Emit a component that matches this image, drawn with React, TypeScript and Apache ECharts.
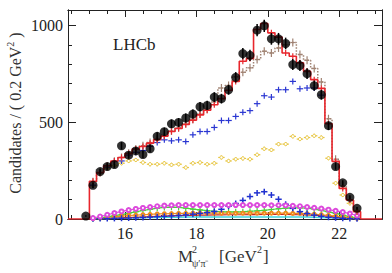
import React, { useEffect, useRef } from "react";
import * as echarts from "echarts";

// ---- data ----
const dataFirstCenter = 14.9;
const fitFirstEdge = 15.0;
const binWidth = 0.2;

const dataCounts = [15, 174, 245, 271, 281, 378, 330, 352, 333, 363, 427, 451, 492, 499, 522, 542, 580, 587, 630, 622, 668, 732, 855, 846, 976, 998, 931, 931, 907, 798, 793, 751, 689, 642, 482, 271, 187, 112, 55];

const fitTotal = [195, 240, 275, 300, 318, 338, 362, 375, 392, 410, 428, 452, 468, 488, 510, 538, 562, 590, 622, 665, 711, 815, 830, 979, 1010, 962, 940, 858, 841, 807, 763, 720, 675, 492, 298, 158, 98, 38];

const brownComp = [192, 238, 273, 298, 318, 340, 362, 378, 395, 412, 432, 455, 472, 492, 515, 542, 567, 605, 677, 690, 735, 758, 781, 824, 867, 858, 884, 900, 912, 850, 820, 778, 708, 518, 309, 170, 100, 40];

const blueComp = [175, 238, 268, 297, 300, 330, 345, 354, 375, 395, 409, 404, 409, 400, 435, 452, 452, 473, 509, 509, 530, 551, 560, 596, 637, 630, 668, 668, 711, 673, 677, 677, 640];

const yellowComp = [172, 236, 262, 276, 288, 300, 305, 292, 283, 283, 288, 280, 283, 266, 288, 292, 283, 288, 318, 300, 309, 313, 309, 332, 363, 357, 387, 387, 427, 413, 421, 430, 421, 314, 185, 124, 81, 43];

const magentaComp = [5, 13, 22, 31, 39, 46, 52, 57, 62, 66, 69, 71, 72, 72, 72, 72, 72, 72, 72, 72, 72, 72, 72, 72, 72, 71, 71, 70, 68, 66, 62, 58, 54, 48, 42, 36, 28, 18];

const greenComp = [2, 6, 11, 17, 23, 30, 37, 44, 50, 56, 60, 61, 60, 56, 51, 47, 43, 40, 38, 37, 37, 38, 40, 42, 45, 49, 53, 56, 58, 58, 56, 51, 45, 37, 29, 20, 12, 5];

const orangeComp = [2, 5, 9, 12, 15, 18, 20, 22, 24, 26, 27, 28, 29, 29, 30, 30, 30, 30, 30, 30, 30, 30, 30, 30, 30, 30, 30, 30, 29, 29, 27, 25, 22, 19, 15, 11, 7, 3];

const cyanComp = [1, 2, 3, 4, 5, 6, 7, 7, 8, 8, 9, 9, 9, 10, 10, 10, 10, 10, 10, 10, 10, 10, 10, 10, 10, 10, 10, 10, 10, 10, 10, 9, 8, 7, 6, 4, 3, 2];

const darkRedComp = [1, 2, 3, 5, 6, 8, 9, 11, 12, 14, 15, 16, 17, 18, 19, 20, 20, 21, 21, 22, 22, 22, 23, 23, 24, 24, 24, 24, 23, 22, 21, 19, 17, 14, 11, 8, 5, 3];

const bluePeakComp = [1, 2, 2, 3, 4, 5, 6, 8, 10, 12, 14, 16, 18, 21, 25, 29, 33, 39, 50, 66, 80, 96, 116, 135, 141, 124, 102, 76, 55, 38, 28, 20, 14, 9, 6, 4, 2, 1];

const xMajorTicks = [16, 18, 20, 22];
const xMinorTicks = [14.5, 15, 15.5, 16.5, 17, 17.5, 18.5, 19, 19.5, 20.5, 21, 21.5, 22.5, 23];
const yMajorTicks = [0, 500, 1000];
const yMinorTicks = [100, 200, 300, 400, 600, 700, 800, 900];

const X_MIN = 14.4;
const X_MAX = 23.2;
const Y_MAX = 1080;

const FONT = "Liberation Serif";

const r1 = (v: number) => Math.round(v * 10) / 10;
const atCenters = (vals: number[], firstCenter: number) =>
  vals.map((v, i) => [r1(firstCenter + i * binWidth), v]);

function crossRender(color: string, halfW: number, halfH: number, circle: boolean, lw = 1.2) {
  return (params: any, api: any) => {
    const x = api.value(0);
    const y = api.value(1);
    const c = api.coord([x, y]);
    const l = api.coord([x - halfW, y]);
    const r = api.coord([x + halfW, y]);
    const children: any[] = [];
    if (halfW > 0)
      children.push({ type: "line", shape: { x1: l[0], y1: c[1], x2: r[0], y2: c[1] }, style: { stroke: color, lineWidth: lw } });
    if (halfH > 0)
      children.push({ type: "line", shape: { x1: c[0], y1: c[1] - halfH, x2: c[0], y2: c[1] + halfH }, style: { stroke: color, lineWidth: lw } });
    if (circle)
      children.push({ type: "circle", shape: { cx: c[0], cy: c[1], r: 1.6 }, style: { fill: "#fff", stroke: color, lineWidth: 1 } });
    return { type: "group", children };
  };
}

export default function App() {
  const ref = useRef<HTMLDivElement>(null);
  useEffect(() => {
    if (!ref.current) return;
    const chart = echarts.init(ref.current, undefined, { renderer: "svg" });

    const fitEdges: number[][] = [[X_MIN, 0]];
    fitTotal.forEach((v, i) => fitEdges.push([r1(fitFirstEdge + i * binWidth), v]));
    fitEdges.push([r1(fitFirstEdge + fitTotal.length * binWidth), 0]);
    fitEdges.push([X_MAX, 0]);

    const fitCenters = atCenters(fitTotal, fitFirstEdge + binWidth / 2);
    const dataPts = atCenters(dataCounts, dataFirstCenter);
    const c0 = fitFirstEdge + binWidth / 2;

    const axisCommon = {
      type: "value" as const,
      splitLine: { show: false },
      axisLine: { show: true, onZero: false, lineStyle: { color: "#222", width: 1 } },
    };

    const xAx = (pos: string, major: boolean, labels: boolean) => ({
      ...axisCommon,
      position: pos,
      min: X_MIN,
      max: X_MAX,
      axisTick: { show: true, inside: true, length: major ? 7 : 4, customValues: major ? xMajorTicks : xMinorTicks, lineStyle: { color: "#222" } },
      axisLabel: labels
        ? { show: true, customValues: xMajorTicks, formatter: (v: number) => String(v), fontFamily: FONT, fontSize: 16, color: "#222", margin: 6 }
        : { show: false },
    });
    const yAx = (pos: string, major: boolean, labels: boolean) => ({
      ...axisCommon,
      position: pos,
      min: 0,
      max: Y_MAX,
      axisTick: { show: true, inside: true, length: major ? 8 : 4, customValues: major ? yMajorTicks : yMinorTicks, lineStyle: { color: "#222" } },
      axisLabel: labels
        ? { show: true, customValues: yMajorTicks, formatter: (v: number) => String(v), fontFamily: FONT, fontSize: 16, color: "#222", margin: 5 }
        : { show: false },
    });

    const t = (text: string, x: number, y: number, size: number) => ({
      type: "text",
      x,
      y,
      style: { text, fontFamily: FONT, fontSize: size, fill: "#333", verticalAlign: "middle" },
    });

    chart.setOption({
      animation: false,
      backgroundColor: "#fff",
      grid: { left: 68, right: 10, top: 10, bottom: 54 },
      xAxis: [xAx("bottom", true, true), xAx("bottom", false, false), xAx("top", true, false), xAx("top", false, false)],
      yAxis: [yAx("left", true, true), yAx("left", false, false), yAx("right", true, false), yAx("right", false, false)],
      series: [
        { type: "line", data: atCenters(cyanComp, c0), symbol: "none", lineStyle: { color: "#3ed6dc", width: 1.5 }, z: 2 },
        { type: "line", data: atCenters(darkRedComp, c0), symbol: "none", lineStyle: { color: "#c8262a", width: 1.2 }, z: 2 },
        { type: "line", data: atCenters(orangeComp, c0), symbol: "emptyCircle", symbolSize: 3, itemStyle: { color: "#ee8a1c" }, lineStyle: { color: "#ee8a1c", width: 1.2 }, z: 2 },
        { type: "line", data: atCenters(greenComp, c0), symbol: "none", lineStyle: { color: "#4ccf3c", width: 1.2 }, z: 2 },
        { type: "custom", data: atCenters(greenComp, c0), renderItem: crossRender("#4ccf3c", 0.08, 3, false), z: 2 },
        { type: "line", data: atCenters(magentaComp, c0), symbol: "emptyCircle", symbolSize: 4, itemStyle: { color: "#dc4adc" }, lineStyle: { color: "#dc4adc", width: 1.2 }, z: 3 },
        { type: "custom", data: atCenters(bluePeakComp, c0), renderItem: crossRender("#2030d0", 0.09, 3, false, 1.5), z: 3 },
        { type: "custom", data: atCenters(yellowComp, c0), renderItem: crossRender("#e8c640", 0.09, 2, true), z: 4 },
        { type: "custom", data: atCenters(blueComp, c0), renderItem: crossRender("#2a36d2", 0.09, 3, false), z: 4 },
        { type: "line", data: atCenters(brownComp, c0), step: "middle", symbol: "none", lineStyle: { color: "#a08272", width: 1.5, type: "dotted" }, z: 5 },
        { type: "custom", data: atCenters(brownComp, c0), renderItem: crossRender("#a08272", 0.06, 4, false), z: 5 },
        { type: "line", data: fitEdges, step: "end", symbol: "none", lineStyle: { color: "#e8262c", width: 1.6 }, z: 6 },
        { type: "custom", data: fitCenters, renderItem: crossRender("#e8262c", 0, 3, false), z: 6 },
        {
          type: "custom",
          data: dataPts,
          z: 7,
          renderItem: (params: any, api: any) => {
            const x = api.value(0);
            const y = api.value(1);
            const e = Math.sqrt(y);
            const lo = api.coord([x, y - e]);
            const hi = api.coord([x, y + e]);
            return { type: "line", shape: { x1: lo[0], y1: lo[1], x2: hi[0], y2: hi[1] }, style: { stroke: "#000", lineWidth: 1.5 } };
          },
        },
        { type: "scatter", data: dataPts, symbol: "circle", symbolSize: 9, itemStyle: { color: "#000" }, z: 8 },
      ],
      graphic: [
        { type: "text", x: 113, y: 44, style: { text: "LHCb", fontFamily: FONT, fontSize: 17, fill: "#222", verticalAlign: "middle" } },
        {
          type: "text",
          x: 14,
          y: 113,
          rotation: Math.PI / 2,
          style: {
            text: "{a|Candidates / ( 0.2 GeV}{s|2}{a| )}",
            align: "center",
            verticalAlign: "middle",
            rich: {
              a: { fontFamily: FONT, fontSize: 16, fill: "#333", lineHeight: 18, verticalAlign: "bottom" },
              s: { fontFamily: FONT, fontSize: 10, fill: "#333", lineHeight: 18, verticalAlign: "top" },
            },
          },
        },
        t("M", 178, 256, 17),
        t("2", 192, 249, 10),
        t("ψ′π⁻", 192, 263, 10),
        t("[GeV", 219, 256, 17),
        t("2", 257, 249, 10),
        t("]", 263, 256, 17),
      ],
    });
    return () => chart.dispose();
  }, []);
  return <div ref={ref} style={{ position: "absolute", left: 0, top: 0, width: 392, height: 273 }} />;
}
